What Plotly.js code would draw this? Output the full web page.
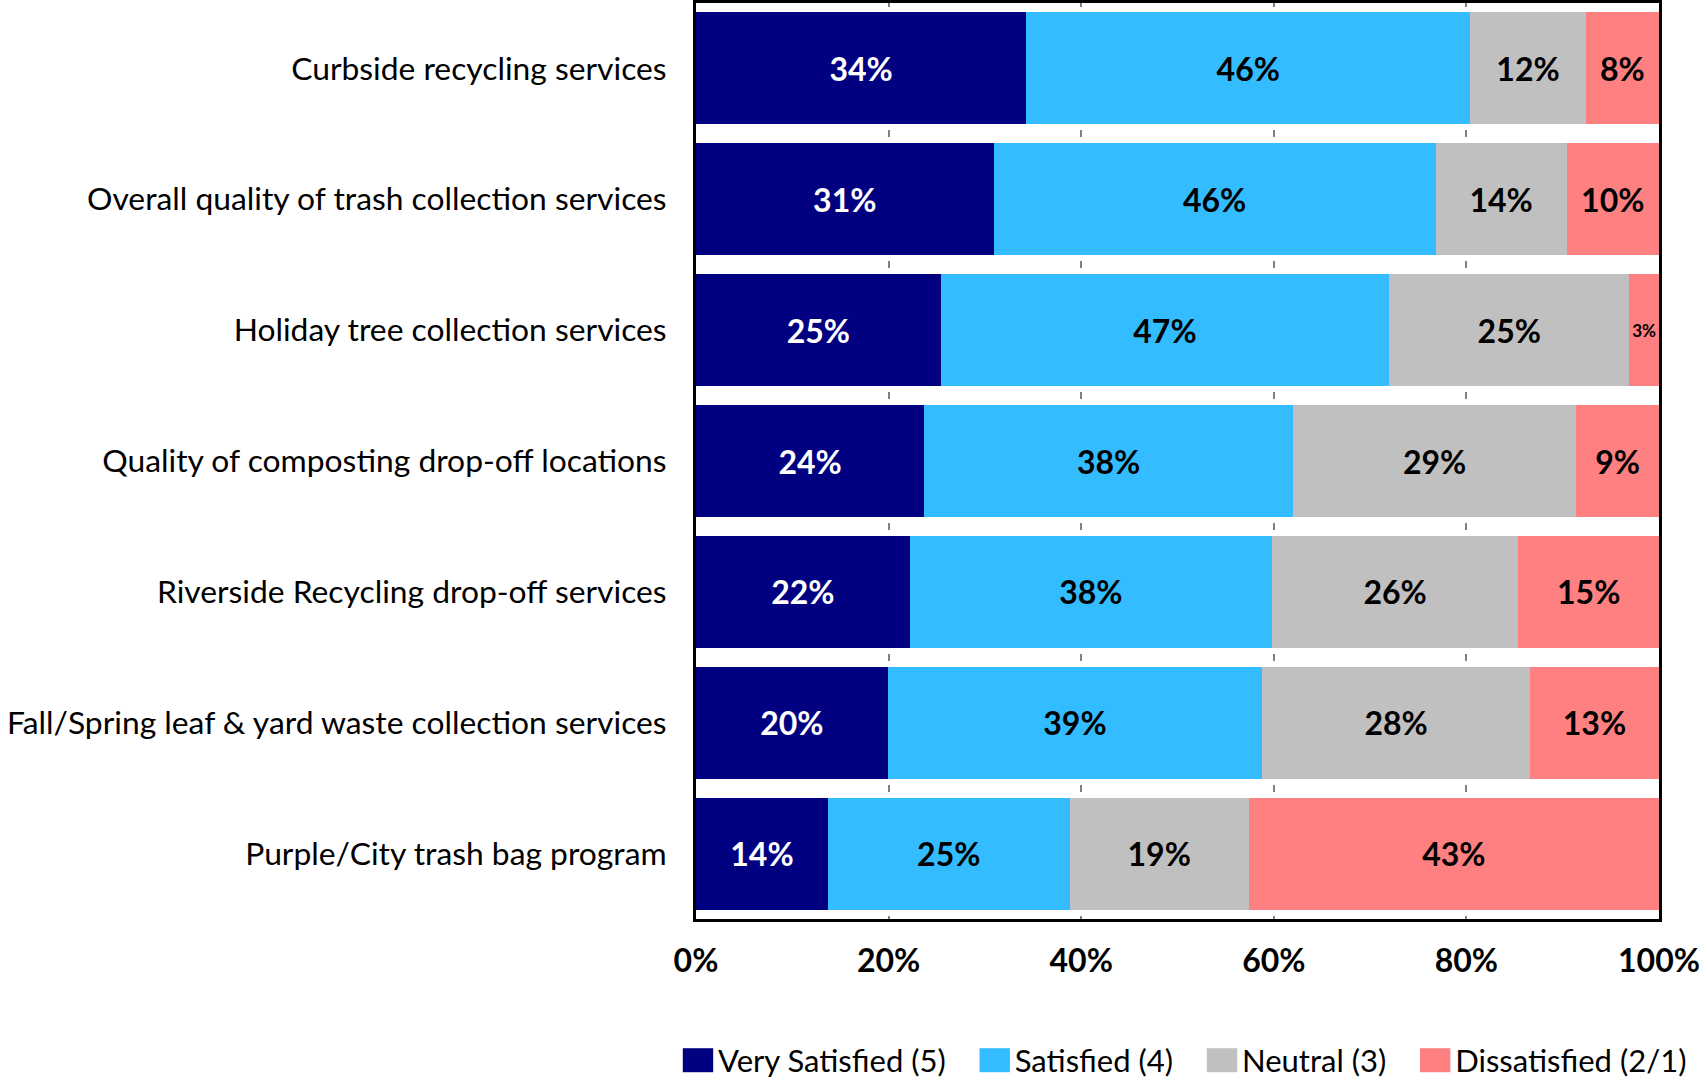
<!DOCTYPE html>
<html>
<head>
<meta charset="utf-8">
<script src="https://cdn.plot.ly/plotly-3.0.1.min.js"></script>
<style>html,body{margin:0;padding:0;background:#fff;}#chart{width:1705px;height:1080px;}</style>
</head>
<body>
<div id="chart"></div>
<script>
const categories = [
  "Curbside recycling services",
  "Overall quality of trash collection services",
  "Holiday tree collection services",
  "Quality of composting drop-off locations",
  "Riverside Recycling drop-off services",
  "Fall/Spring leaf & yard waste collection services",
  "Purple/City trash bag program"
];
const verySatisfied = [34.3, 30.9, 25.4, 23.7, 22.2, 19.9, 13.7];
const satisfied     = [46.1, 45.9, 46.6, 38.3, 37.6, 38.9, 25.1];
const neutral       = [12.0, 13.6, 24.9, 29.4, 25.6, 27.8, 18.6];
const dissatisfied  = [7.6, 9.6, 3.1, 8.6, 14.6, 13.4, 42.6];
const seriesNames = ["Very Satisfied (5)", "Satisfied (4)", "Neutral (3)", "Dissatisfied (2/1)"];
const tickVals = [0, 20, 40, 60, 80, 100];
const tickText = ["0%", "20%", "40%", "60%", "80%", "100%"];

const colors = ["#000080", "#33BCFF", "#C0C0C0", "#FF8080"];
const textColors = ["#FFFFFF", "#000000", "#000000", "#000000"];
const seriesData = [verySatisfied, satisfied, neutral, dissatisfied];

const FONT = "Lato, 'Open Sans', sans-serif";

const traces = seriesData.map((vals, i) => ({
  type: "bar",
  orientation: "h",
  name: seriesNames[i],
  y: categories,
  x: vals,
  showlegend: false,
  marker: { color: colors[i], line: { width: 0 } },
  texttemplate: "<b>%{x:.0f}%</b>",
  textposition: "inside",
  insidetextanchor: "middle",
  constraintext: "inside",
  textangle: 0,
  textfont: { family: FONT, size: vals.map(v => (v < 5 ? 22 : 32)), color: textColors[i] },
  hoverinfo: "skip"
}));

// legend entries (square swatches)
seriesNames.forEach((nm, i) => {
  traces.push({
    type: "scatter",
    mode: "markers",
    name: nm,
    x: [null],
    y: [null],
    showlegend: true,
    marker: { symbol: "square", size: 16, color: colors[i] },
    hoverinfo: "skip"
  });
});

const layout = {
  width: 1705,
  height: 1080,
  barmode: "stack",
  bargap: 0.145,
  paper_bgcolor: "#FFFFFF",
  plot_bgcolor: "#FFFFFF",
  margin: { l: 696, r: 46, t: 3, b: 161, pad: 0, autoexpand: false },
  font: { family: FONT, color: "#000000" },
  showlegend: true,
  legend: {
    orientation: "h",
    xref: "container",
    yref: "container",
    x: 0.695, xanchor: "center",
    y: 0.018, yanchor: "middle",
    font: { family: FONT, size: 31, color: "#000000" },
    traceorder: "normal",
    itemsizing: "trace",
    itemwidth: 30
  },
  xaxis: {
    range: [0, 100],
    tickvals: tickVals,
    ticktext: tickText,
    tickfont: { family: FONT, size: 32, color: "#000000", weight: "bold" },
    showgrid: true,
    gridcolor: "#808080",
    gridwidth: 2,
    griddash: "3.5px,123.9px,3.5px,0px",
    zeroline: false,
    showline: true,
    linecolor: "#000000",
    linewidth: 3,
    mirror: true,
    ticks: "",
    ticklabelstandoff: 12,
    fixedrange: true
  },
  yaxis: {
    autorange: "reversed",
    type: "category",
    tickfont: { family: FONT, size: 31.8, color: "#000000" },
    showgrid: false,
    zeroline: false,
    showline: true,
    linecolor: "#000000",
    linewidth: 3,
    mirror: true,
    ticks: "",
    ticklabelstandoff: 20,
    fixedrange: true
  }
};

Plotly.newPlot("chart", traces, layout, { displayModeBar: false, staticPlot: true }).then(() => {
  // let the legend draw outside its computed box
  document.querySelectorAll(".legend [clip-path]").forEach(e => e.removeAttribute("clip-path"));
  // enlarge the legend swatches to match the reference's bigger boxes
  document.querySelectorAll(".legend .legendpoints path.scatterpts").forEach(p => {
    const t = p.getAttribute("transform") || "";
    p.setAttribute("transform", t + " scale(1.9,1.5)");
  });
  // widen the spacing between legend entries
  const items = document.querySelectorAll(".legend .traces");
  const extra = 24;
  items.forEach((g, i) => {
    const t = g.getAttribute("transform") || "";
    const shift = (i - (items.length - 1) / 2) * extra;
    g.setAttribute("transform", "translate(" + shift + ",0) " + t);
  });
});
</script>
</body>
</html>
